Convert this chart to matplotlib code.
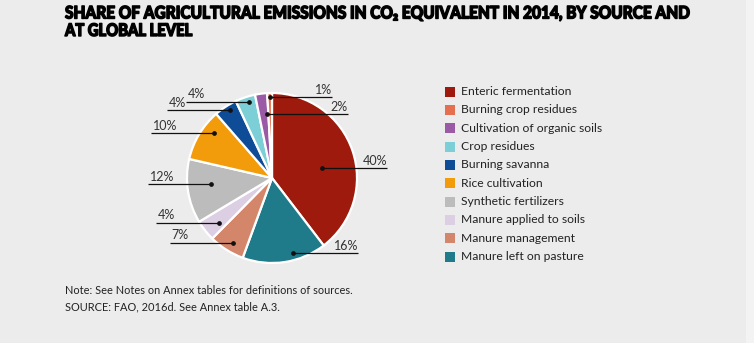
import matplotlib
matplotlib.use("Agg")
import matplotlib.pyplot as plt
import numpy as np
from matplotlib.patheffects import AbstractPathEffect
from matplotlib.transforms import Affine2D
from matplotlib.patches import Rectangle

# ---------------- data ----------------
categories = [
    "Enteric fermentation",
    "Burning crop residues",
    "Cultivation of organic soils",
    "Crop residues",
    "Burning savanna",
    "Rice cultivation",
    "Synthetic fertilizers",
    "Manure applied to soils",
    "Manure management",
    "Manure left on pasture",
]
shares = [39.6, 0.9, 2.3, 3.8, 4.4, 10.0, 12.2, 4.0, 6.8, 16.0]
colors = [
    "#9e1a0c", "#e4704f", "#9b5aa6", "#7ccfd6", "#0e4c98",
    "#f39c0b", "#bcbcbc", "#dccfe4", "#d3866a", "#1f7a8a",
]
title_lines = ["SHARE OF AGRICULTURAL EMISSIONS IN CO\u2082 EQUIVALENT IN 2014, BY SOURCE AND",
               "AT GLOBAL LEVEL"]
notes = ["Note: See Notes on Annex tables for definitions of sources.",
         "SOURCE: FAO, 2016d. See Annex table A.3."]

# ---------------- layout ----------------
W, H = 754, 343
BG = "#ececec"
FONT = ["Lato", "DejaVu Sans"]
CX, CY, R = 272, 178, 85        # pie centre / radius in pixels (y down)

# pie drawn clockwise from top: enteric first, then the others in reverse legend order
pie_idx = [0] + list(range(len(categories) - 1, 0, -1))
# label leader layout per category: (radial fraction, angle offset deg, line length px, side)
label_layout = {
    0: (0.60, -7.5, 65, 1),
    9: (0.92, 7.0, 65, 1),
    8: (0.89, 1.0, 63, -1),
    7: (0.82, 2.0, 63, -1),
    6: (0.72, -3.0, 63, -1),
    5: (0.86, -7.0, 63, -1),
    4: (0.94, -1.0, 63, -1),
    3: (0.94, -1.5, 63, -1),
    2: (0.75, -2.5, 81, 1),
    1: (0.95, -0.5, 62, 1),
}


def Y(y):
    return H - y


fig = plt.figure(figsize=(W / 100, H / 100), dpi=100, facecolor=BG)
ax = fig.add_axes([0, 0, 1, 1])
ax.set_facecolor(BG)

# faint lighter strip on the right edge of the original image
ax.add_patch(Rectangle((746, 0), 8, H, facecolor="#f3f3f3", edgecolor="none", zorder=0))

wedges, _ = ax.pie(
    [shares[i] for i in pie_idx],
    colors=[colors[i] for i in pie_idx],
    startangle=90, counterclock=False,
    center=(CX, Y(CY)), radius=R,
    wedgeprops=dict(edgecolor="white", linewidth=1.6),
)

for w, i in zip(wedges, pie_idx):
    rf, dth, length, side = label_layout[i]
    th = np.deg2rad((w.theta1 + w.theta2) / 2 + dth)
    dx = CX + rf * R * np.cos(th)
    dy = Y(CY) + rf * R * np.sin(th)
    ex = dx + side * length
    ax.plot([dx, ex], [dy, dy], color="#111111", lw=0.9, solid_capstyle="butt", zorder=5)
    ax.plot([dx], [dy], "o", color="#111111", ms=2.4, zorder=6)
    txt = f"{round(shares[i]):d}%"
    if side > 0:
        ax.text(ex, dy + 1.5, txt, ha="right", va="bottom", fontsize=9,
                family=FONT, color="#333333")
    else:
        ax.text(dx - length + 2, dy + 1.5, txt, ha="left", va="bottom", fontsize=9,
                family=FONT, color="#333333")

# legend
for k, (cat, col) in enumerate(zip(categories, colors)):
    yc = 91.5 + k * 18.35
    ax.add_patch(Rectangle((445, Y(yc) - 5), 10, 10, facecolor=col, edgecolor="none"))
    ax.text(461, Y(yc), cat, ha="left", va="center", fontsize=8.7, family=FONT,
            color="#222222")

ax.set_xlim(0, W)
ax.set_ylim(0, H)
ax.set_aspect("auto")
ax.axis("off")


class Condensed(AbstractPathEffect):
    """Scale glyphs about an anchor point and embolden them with a stroke."""

    def __init__(self, x0, y0, sx, sy, stroke, color):
        super().__init__()
        self.x0, self.y0, self.sx, self.sy = x0, y0, sx, sy
        self.stroke = stroke
        self.color = color

    def draw_path(self, renderer, gc, tpath, affine, rgbFace=None):
        aff = affine + Affine2D().translate(-self.x0, -self.y0).scale(self.sx, self.sy) \
            .translate(self.x0, self.y0)
        gc0 = renderer.new_gc()
        gc0.copy_properties(gc)
        gc0.set_linewidth(self.stroke)
        gc0.set_foreground(self.color)
        gc0.set_joinstyle("round")
        renderer.draw_path(gc0, tpath, aff, rgbFace)
        gc0.restore()


TITLE_FS = 11
TX = 65
baselines = [18.5, 36]
targets = [622, 127]
titles = []
for line, b in zip(title_lines, baselines):
    titles.append(fig.text(TX / W, 1 - b / H, line, ha="left", va="baseline",
                           fontsize=TITLE_FS, fontweight="black", family=FONT,
                           color="#000000"))

for n, line in enumerate(notes):
    fig.text(65 / W, 1 - (291 + n * 16) / H, line, ha="left", va="center",
             fontsize=7.9, family=FONT, color="#222222")

fig.canvas.draw()
for t, b, tw in zip(titles, baselines, targets):
    wdt = t.get_window_extent().width
    t.set_path_effects([Condensed(TX, H - b, tw / wdt, 12.5 / TITLE_FS, 1.0, "#000000")])

fig.savefig("out.png", dpi=100, facecolor=BG)
